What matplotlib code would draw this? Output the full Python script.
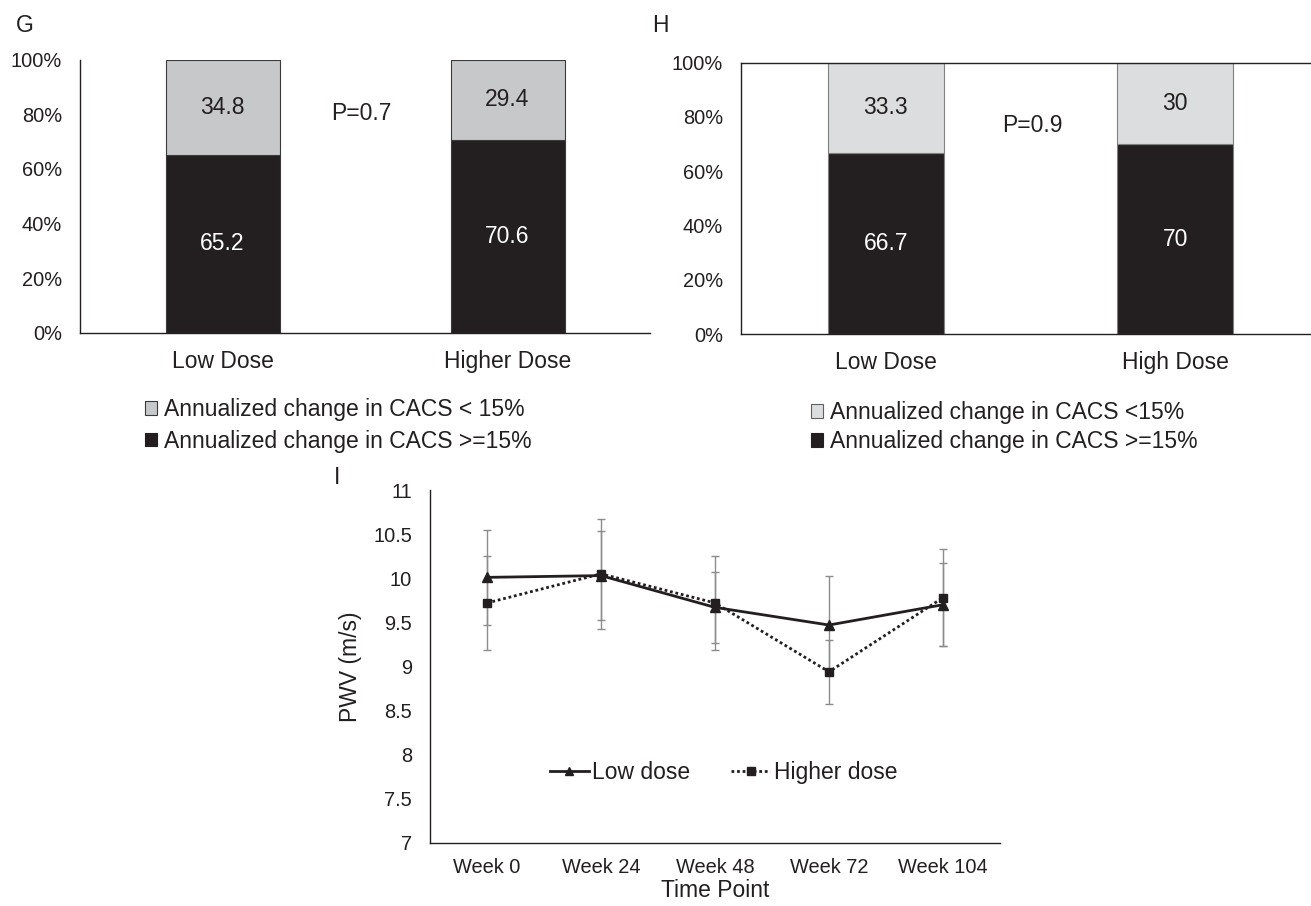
import matplotlib
matplotlib.use("Agg")
import matplotlib.pyplot as plt
from matplotlib.patches import Patch

plt.rcParams['font.family'] = ['Liberation Sans', 'DejaVu Sans']

# ---------------- data ----------------
g_categories = ["Low Dose", "Higher Dose"]
g_ge15 = [65.2, 70.6]
g_lt15 = [34.8, 29.4]
g_p_text = "P=0.7"
g_legend = ["Annualized change in CACS < 15%", "Annualized change in CACS >=15%"]

h_categories = ["Low Dose", "High Dose"]
h_ge15 = [66.7, 70]
h_lt15 = [33.3, 30]
h_p_text = "P=0.9"
h_legend = ["Annualized change in CACS <15%", "Annualized change in CACS >=15%"]

pct_ticks = [0, 20, 40, 60, 80, 100]

time_points = ["Week 0", "Week 24", "Week 48", "Week 72", "Week 104"]
low_dose = [10.01, 10.03, 9.67, 9.47, 9.70]
low_err = [0.54, 0.50, 0.40, 0.56, 0.47]
high_dose = [9.72, 10.05, 9.72, 8.94, 9.78]
high_err = [0.53, 0.62, 0.53, 0.36, 0.55]
pwv_ticks = [7, 7.5, 8, 8.5, 9, 9.5, 10, 10.5, 11]

# ---------------- style ----------------
W, H = 1311, 906
DARK = "#231f20"
TXT = "#231f20"
fig = plt.figure(figsize=(W / 100, H / 100), dpi=100)


def px_axes(left, top, right, bottom):
    return fig.add_axes([left / W, 1 - bottom / H, (right - left) / W, (bottom - top) / H])


def bar_panel(ax, cats, ge, lt, light, edge, ptxt, pxy, spines_top):
    x = list(range(len(cats)))
    c1 = ax.bar(x, ge, width=0.40, color=DARK, edgecolor=edge, linewidth=0.8)
    c2 = ax.bar(x, lt, width=0.40, bottom=ge, color=light, edgecolor=edge, linewidth=0.8)
    ax.bar_label(c1, labels=["%g" % v for v in ge], label_type='center',
                 color='white', fontsize=16.5)
    ax.bar_label(c2, labels=["%g" % v for v in lt], label_type='center',
                 color=TXT, fontsize=16.5)
    ax.set_xlim(-0.5, 1.5)
    ax.set_ylim(0, 100)
    ax.set_yticks(pct_ticks)
    ax.set_yticklabels(["%d%%" % t for t in pct_ticks])
    ax.set_xticks(x)
    ax.set_xticklabels(cats)
    ax.tick_params(axis='y', length=0, pad=13, labelsize=14.4, labelcolor=TXT)
    ax.tick_params(axis='x', length=0, pad=12, labelsize=16.5, labelcolor=TXT)
    ax.spines['right'].set_visible(False)
    ax.spines['top'].set_visible(spines_top)
    for s in ['left', 'bottom', 'top']:
        ax.spines[s].set_color('#231f20')
        ax.spines[s].set_linewidth(1.0)
    ax.text(pxy[0], pxy[1], ptxt, ha='center', va='center', fontsize=16.5, color=TXT)


# Panel G
axG = px_axes(80, 59.5, 650, 333)
bar_panel(axG, g_categories, g_ge15, g_lt15, "#c7c8ca", "#3a3a3a", g_p_text, (0.486, 80.4), False)
fig.legend(handles=[Patch(facecolor="#c7c8ca", edgecolor="#3a3a3a", linewidth=0.8),
                    Patch(facecolor=DARK, edgecolor=DARK, linewidth=0.8)],
           labels=g_legend, loc='upper left', bbox_to_anchor=(145 / W, 1 - 398 / H),
           frameon=False, fontsize=16.5, handlelength=0.52, handleheight=0.52,
           handletextpad=0.3, labelspacing=0.38, borderpad=0, borderaxespad=0,
           labelcolor=TXT)

# Panel H
axH = px_axes(741, 62.7, 1320, 334)
bar_panel(axH, h_categories, h_ge15, h_lt15, "#dcddde", "#808080", h_p_text, (0.507, 76.7), True)
fig.legend(handles=[Patch(facecolor="#dcddde", edgecolor="#606060", linewidth=0.8),
                    Patch(facecolor=DARK, edgecolor=DARK, linewidth=0.8)],
           labels=h_legend, loc='upper left', bbox_to_anchor=(811 / W, 1 - 401 / H),
           frameon=False, fontsize=16.5, handlelength=0.52, handleheight=0.52,
           handletextpad=0.3, labelspacing=0.27, borderpad=0, borderaxespad=0,
           labelcolor=TXT)

# Panel I
axI = px_axes(430, 490, 1000, 843)
xi = list(range(len(time_points)))
axI.errorbar(xi, low_dose, yerr=low_err, fmt='none', ecolor='#8c8c8c',
             elinewidth=1.0, capsize=2.6, capthick=1.0, zorder=1)
axI.errorbar(xi, high_dose, yerr=high_err, fmt='none', ecolor='#8c8c8c',
             elinewidth=1.0, capsize=2.6, capthick=1.0, zorder=1)
axI.plot(xi, low_dose, color=DARK, linestyle='-', linewidth=2.0, marker='^',
         markersize=6.5, zorder=3, label="Low dose")
axI.plot(xi, high_dose, color=DARK, linestyle=(0, (1, 1)), linewidth=2.0, marker='s',
         markersize=6.2, zorder=3, label="Higher dose")
axI.set_xlim(-0.5, 4.5)
axI.set_ylim(7, 11)
axI.set_yticks(pwv_ticks)
axI.set_yticklabels(["%g" % t for t in pwv_ticks])
axI.set_xticks(xi)
axI.set_xticklabels(time_points)
axI.tick_params(axis='y', length=0, pad=13, labelsize=14.4, labelcolor=TXT)
axI.tick_params(axis='x', length=0, pad=11, labelsize=14.4, labelcolor=TXT)
axI.set_xlabel("Time Point", fontsize=16.5, color=TXT, labelpad=1)
axI.set_ylabel("PWV (m/s)", fontsize=16.5, color=TXT, labelpad=8)
for s in ['top', 'right']:
    axI.spines[s].set_visible(False)
for s in ['left', 'bottom']:
    axI.spines[s].set_color('#231f20')
    axI.spines[s].set_linewidth(1.0)
axI.legend(loc='center', bbox_to_anchor=(0.515, 0.201), ncol=2, frameon=False,
           fontsize=16.5, handlelength=1.7, handletextpad=0.15, columnspacing=1.8,
           labelcolor=TXT, markerscale=0.85)

# panel letters
fig.text(25 / W, 1 - 25 / H, "G", ha='center', va='center', fontsize=16.5, color=TXT)
fig.text(660 / W, 1 - 25 / H, "H", ha='center', va='center', fontsize=16.5, color=TXT)
fig.text(337 / W, 1 - 478 / H, "I", ha='center', va='center', fontsize=16.5, color=TXT)

fig.savefig("out.png", dpi=100)
